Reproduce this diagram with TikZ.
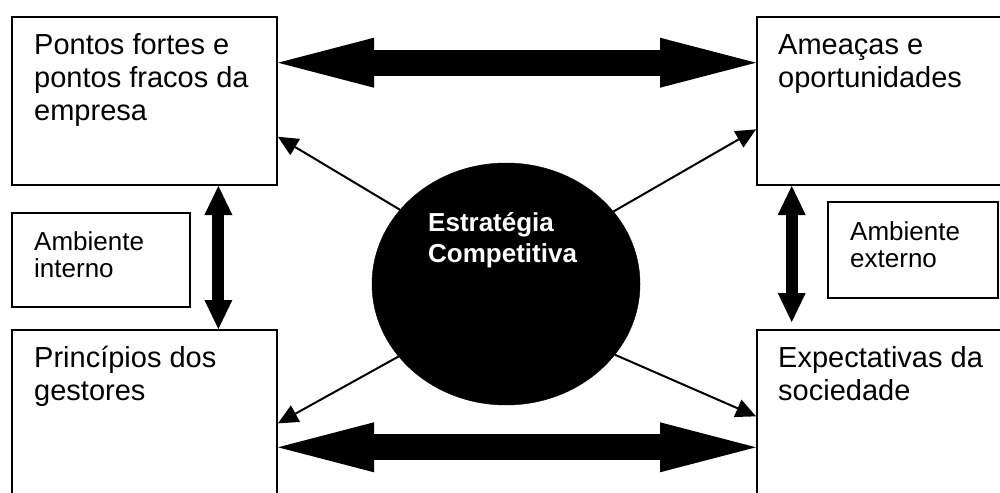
\documentclass[tikz,border=0pt]{standalone}
\usepackage{fontspec}
\setmainfont{Liberation Sans}
\usetikzlibrary{arrows.meta,shapes.geometric}
\begin{document}
\begin{tikzpicture}[x=1pt,y=-1pt,
  box/.style={draw=black,line width=2pt,rectangle,inner sep=0pt,fill=white},
  maintext/.style={anchor=base west,align=left,inner sep=0pt,font=\fontsize{29}{33}\selectfont},
  smalltext/.style={anchor=base west,align=left,inner sep=0pt,font=\fontsize{26}{27}\selectfont},
  thin/.style={line width=2pt,-{Triangle[length=20pt,width=19pt,line width=0pt]}},
  bigarrow/.style={line width=26pt,{Triangle[length=96pt,width=50pt,line width=0pt]}-{Triangle[length=96pt,width=50pt,line width=0pt]}},
  vertarrow/.style={line width=12pt,{Triangle[length=29pt,width=28pt,line width=0pt]}-{Triangle[length=29pt,width=28pt,line width=0pt]}}]
\clip (0,0) rectangle (1000,492);
\fill[white] (0,0) rectangle (1000,492);
% boxes
\node[box,minimum width=265pt,minimum height=168pt] (tl) at (144.5,101) {};
\node[box,minimum width=265pt,minimum height=168pt] (tr) at (889.5,101) {};
\node[box,minimum width=265pt,minimum height=168pt] (bl) at (144.5,414) {};
\node[box,minimum width=265pt,minimum height=168pt] (br) at (889.5,414) {};
\node[box,minimum width=178pt,minimum height=94pt] (ai) at (101,260) {};
\node[box,minimum width=170pt,minimum height=96pt] (ae) at (913,250) {};
% ellipse
\node[ellipse,fill=black,draw=black,minimum width=268pt,minimum height=242pt,inner sep=0pt] (ell) at (506,284) {};
% texts (anchored at baseline of last line)
\node[maintext] (ttl) at (34,121) {Pontos fortes e\\pontos fracos da\\empresa};
\node[maintext] (ttr) at (778,88) {Ameaças e\\oportunidades};
\node[maintext] (tbl) at (34,400) {Princípios dos\\gestores};
\node[maintext] (tbr) at (778,400) {Expectativas da\\sociedade};
\node[smalltext] (tai) at (34,277) {Ambiente\\interno};
\node[smalltext] (tae) at (850,267) {Ambiente\\externo};
\node[anchor=base west,align=left,inner sep=0pt,text=white,font=\fontsize{26}{31}\selectfont\bfseries] (tell) at (428,262) {Estratégia\\Competitiva};
% thin arrows
\draw[thin] (ell.145.6) -- (tl.-15.6);
\draw[thin] (ell.34.9) -- (tr.192.8);
\draw[thin] (ell.214.9) -- (bl.-4.75);
\draw[thin] (ell.-33.7) -- (br.181.3);
% big arrows
\draw[bigarrow] (tl.16) -- (tr.164);
\draw[bigarrow] (bl.-14.8) -- (br.194.8);
\draw[vertarrow] (tl.-49.2) -- (bl.49.2);
\draw[vertarrow,shorten >=7pt] (tr.221) -- (br.139);
\end{tikzpicture}
\end{document}
